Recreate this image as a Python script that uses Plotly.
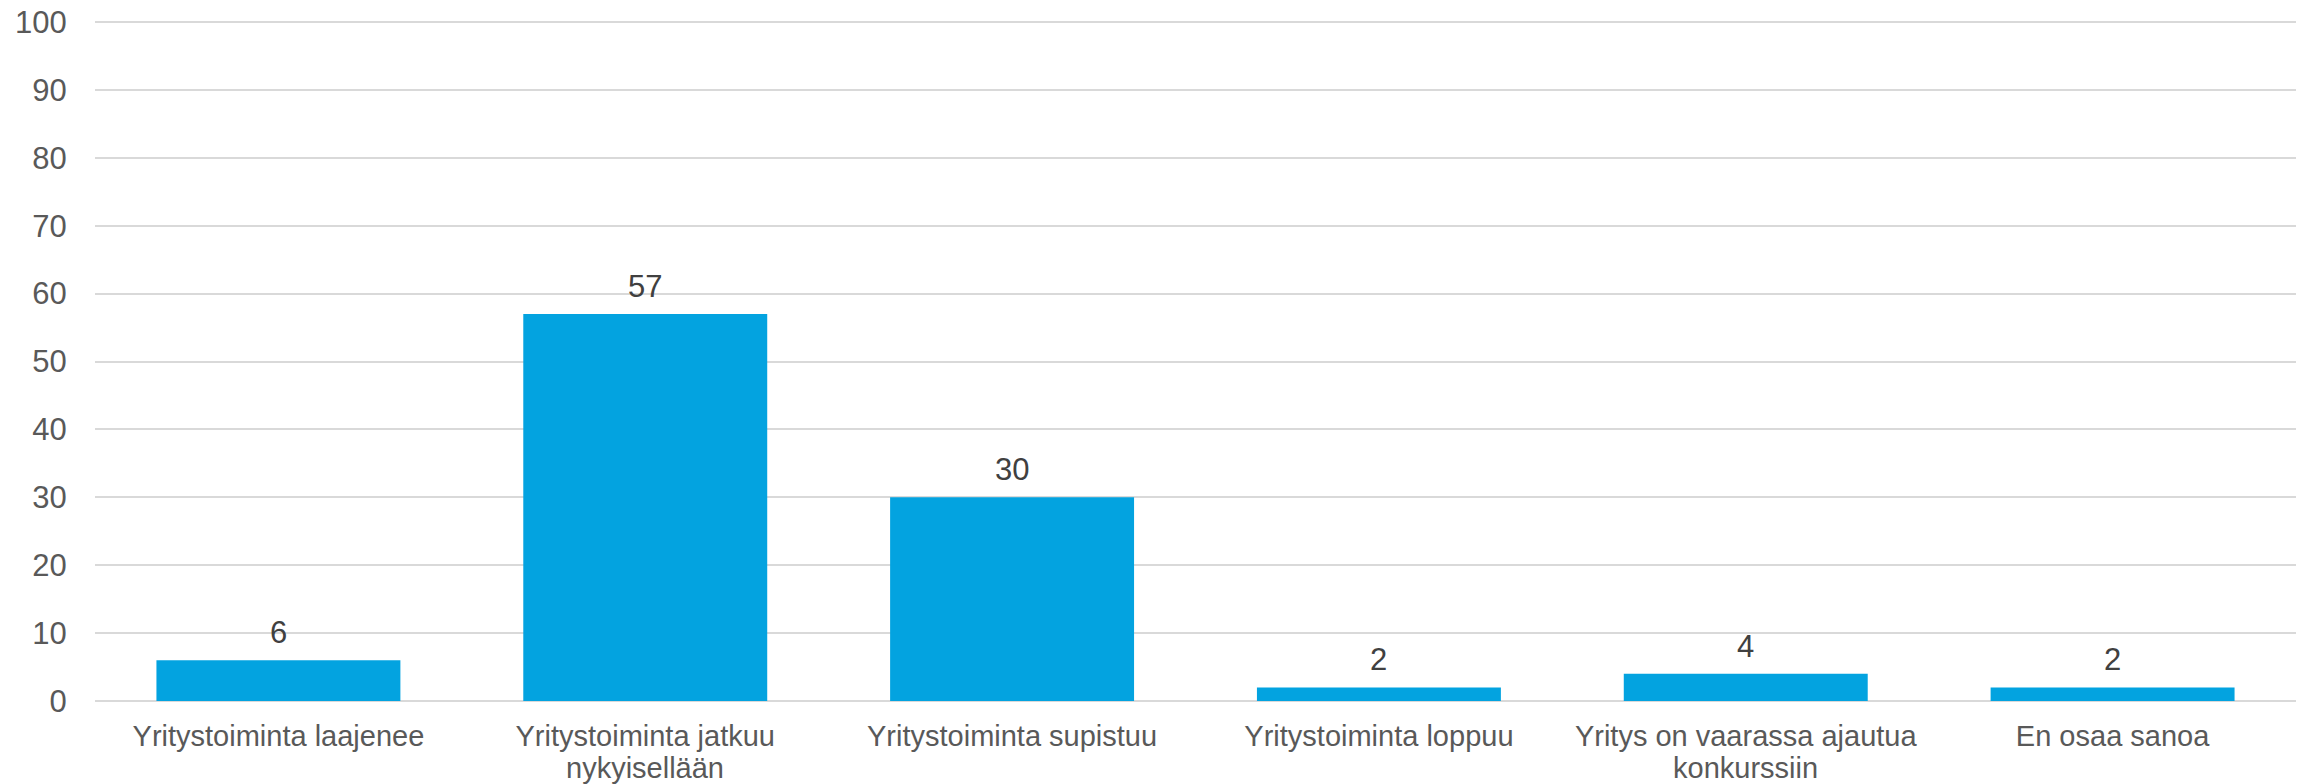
import plotly.graph_objects as go

categories = [
    "Yritystoiminta laajenee",
    "Yritystoiminta jatkuu<br>nykyisellään",
    "Yritystoiminta supistuu",
    "Yritystoiminta loppuu",
    "Yritys on vaarassa ajautua<br>konkurssiin",
    "En osaa sanoa",
]
values = [6, 57, 30, 2, 4, 2]
y_ticks = [0, 10, 20, 30, 40, 50, 60, 70, 80, 90, 100]

FONT = "Liberation Sans, Arial, sans-serif"

fig = go.Figure(
    go.Bar(
        x=categories,
        y=values,
        marker=dict(color="#03A3E0", line=dict(width=0)),
        hoverinfo="skip",
    )
)

# value labels above bars
for c, v in zip(categories, values):
    fig.add_annotation(
        x=c, y=v, xref="x", yref="y",
        text=str(v), showarrow=False,
        yanchor="bottom", yshift=8,
        font=dict(family=FONT, size=31, color="#404040"),
    )

# category labels: first line as axis tick text, further lines with tighter spacing
first_lines = [c.split("<br>")[0] for c in categories]
for c in categories:
    parts = c.split("<br>")
    for i, extra in enumerate(parts[1:], start=1):
        fig.add_annotation(
            x=c, y=0, xref="x", yref="y",
            text=extra, showarrow=False,
            yanchor="middle", yshift=-(36 + 31 * i),
            font=dict(family=FONT, size=29, color="#595959"),
        )

fig.update_layout(
    width=2303,
    height=784,
    margin=dict(l=95, r=7, t=20, b=83, autoexpand=False),
    paper_bgcolor="white",
    plot_bgcolor="white",
    bargap=0.335,
    showlegend=False,
    font=dict(family=FONT, size=29, color="#595959"),
)

fig.update_xaxes(
    automargin=False,
    showgrid=False,
    showline=False,
    tickvals=categories,
    ticktext=first_lines,
    ticks="outside",
    ticklen=9,
    tickcolor="rgba(0,0,0,0)",
    tickfont=dict(family=FONT, size=29, color="#595959"),
)
fig.update_yaxes(
    automargin=False,
    range=[0, 100.3],
    tickvals=y_ticks,
    showgrid=True,
    gridcolor="#D9D9D9",
    gridwidth=2,
    zeroline=True,
    zerolinecolor="#D9D9D9",
    zerolinewidth=2,
    showline=False,
    ticks="outside",
    ticklen=21,
    tickcolor="rgba(0,0,0,0)",
    tickfont=dict(family=FONT, size=31, color="#595959"),
)

fig.write_html(
    "out.html",
    config={"displayModeBar": False},
    post_script="document.body.style.margin='0';document.body.style.overflow='hidden';",
)
